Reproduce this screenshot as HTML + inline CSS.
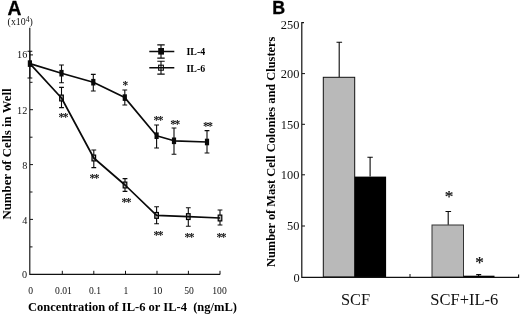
<!DOCTYPE html>
<html><head><meta charset="utf-8">
<style>
html,body{margin:0;padding:0;background:#fff;}
body{width:520px;height:314px;overflow:hidden;}
svg{display:block;will-change:transform;}
text{font-family:"Liberation Serif",serif;fill:#111;}
.sans{font-family:"Liberation Sans",sans-serif;font-weight:bold;fill:#000;}
.b{font-weight:bold;fill:#000;}
.ax{stroke:#111;stroke-width:1.4;fill:none;}
.tk{stroke:#111;stroke-width:1;fill:none;}
.ln{stroke:#0a0a0a;stroke-width:1.7;fill:none;stroke-linejoin:round;}
.eb{stroke:#0a0a0a;stroke-width:1.1;fill:none;}
.st{font-size:11.5px;fill:#444;letter-spacing:-1.5px;font-weight:bold;}
</style></head><body>
<svg width="520" height="314" viewBox="0 0 520 314">
<rect width="520" height="314" fill="#fff"/>

<text class="sans" x="7.5" y="14.5" font-size="20.4" textLength="13.9" stroke="#000" stroke-width="0.3" lengthAdjust="spacingAndGlyphs">A</text>
<text x="7.6" y="25.3" font-size="9.4" textLength="25.2" lengthAdjust="spacingAndGlyphs">(x10<tspan dy="-3.0" font-size="7.2">4</tspan><tspan dy="3.0">)</tspan></text>
<path class="ax" style="stroke-width:1.15" d="M29.8 27.8V274.3H220.3"/>
<path class="tk" d="M30 54.9h3M30 82.3h2.5M30 109.7h3M30 137.2h2.5M30 164.6h3M30 192h2.5M30 219.4h3M30 246.9h2.5"/>
<path class="tk" d="M62.3 274v-3.2M93.8 274v-3.2M125.5 274v-3.2M157 274v-3.2M188.4 274v-3.2M220 274v-3.2"/>
<g font-size="10.2" text-anchor="end">
<text x="27.3" y="58.3">16</text>
<text x="27.3" y="114.1">12</text>
<text x="27.3" y="169">8</text>
<text x="27.3" y="224.3">4</text>
<text x="27" y="277.6">0</text>
</g>
<g font-size="9.6" text-anchor="middle">
<text x="30.6" y="293.8">0</text>
<text x="63.5" y="293.8">0.01</text>
<text x="95" y="293.8">0.1</text>
<text x="126" y="293.8">1</text>
<text x="157.5" y="293.8">10</text>
<text x="189" y="293.8">50</text>
<text x="219.5" y="293.8">100</text>
</g>
<text class="b" x="28.1" y="310.7" font-size="12.5" xml:space="preserve">Concentration of IL-6 or IL-4  (ng/mL)</text>
<text class="b" transform="translate(10.7,219.5) rotate(-90)" font-size="12.8">Number of Cells in Well</text>

<path class="eb" d="M29.9 51.3V78M27.5 51.3h4.8M27.5 78h4.8M61.5 65V82.7M59.1 65h4.8M59.1 82.7h4.8M93.3 74.4V91M90.89999999999999 74.4h4.8M90.89999999999999 91h4.8M124.8 90V105M122.39999999999999 90h4.8M122.39999999999999 105h4.8M156.6 125V148M154.2 125h4.8M154.2 148h4.8M174 128V154.3M171.6 128h4.8M171.6 154.3h4.8M207 130.6V153M204.6 130.6h4.8M204.6 153h4.8M61.5 87.4V107.6M59.1 87.4h4.8M59.1 107.6h4.8M93.8 150V167.6M91.39999999999999 150h4.8M91.39999999999999 167.6h4.8M125 178.6V191.4M122.6 178.6h4.8M122.6 191.4h4.8M156.6 206.7V223.8M154.2 206.7h4.8M154.2 223.8h4.8M188.3 207.7V226.3M185.9 207.7h4.8M185.9 226.3h4.8M220 210V225M217.6 210h4.8M217.6 225h4.8"/>
<g fill="#0a0a0a">
<rect x="27.8" y="60.3" width="4.2" height="6.6"/>
<rect x="59.4" y="69.9" width="4.2" height="6.6"/>
<rect x="91.2" y="78.9" width="4.2" height="6.6"/>
<rect x="122.7" y="94.3" width="4.2" height="6.6"/>
<rect x="154.5" y="132.4" width="4.2" height="6.6"/>
<rect x="171.9" y="137.5" width="4.2" height="6.6"/>
<rect x="204.9" y="138.7" width="4.2" height="6.6"/>
</g><g fill="#b4b4b4" stroke="#000" stroke-width="1.2">
<rect x="59.7" y="95.1" width="3.6" height="5.8"/>
<rect x="92.0" y="155.1" width="3.6" height="5.8"/>
<rect x="123.2" y="182.1" width="3.6" height="5.8"/>
<rect x="154.8" y="212.5" width="3.6" height="5.8"/>
<rect x="186.5" y="213.7" width="3.6" height="5.8"/>
<rect x="218.2" y="215.1" width="3.6" height="5.8"/>
</g>
<path class="ln" d="M29.9 63.6L61.5 73.2L93.3 82.2L124.8 97.6L156.6 135.7L174 140.8L207 142"/>
<path class="ln" d="M29.9 63.6L61.5 98L93.8 158L125 185L156.6 215.4L188.3 216.6L220 218"/>
<g>
</g><g class="st" text-anchor="middle">
<text x="124.7" y="88.8">*</text>
<text x="157.7" y="123.8">**</text>
<text x="174.4" y="127.8">**</text>
<text x="207.3" y="129.8">**</text>
<text x="62.7" y="121.3">**</text>
<text x="93.7" y="181.9">**</text>
<text x="125.7" y="206.1">**</text>
<text x="157.7" y="239.3">**</text>
<text x="188.7" y="241.3">**</text>
<text x="220.7" y="240.8">**</text>
</g>
<rect x="158.2" y="48.0" width="5.8" height="6.6" fill="#0a0a0a"/>
<rect x="158.6" y="65.2" width="4.8" height="5.0" fill="#fff" stroke="#111" stroke-width="1.1"/>
<path class="ln" d="M149.3 51.4H174.3M149.3 67.8H174.3" style="stroke-width:1.5"/>
<path class="eb" d="M161.0 44.9V58.1M157.3 44.9h7.4M157.3 58.1h7.4M161.0 61.3V74.1M157.3 61.3h7.4M157.3 74.1h7.4"/>
<text class="b" x="186.5" y="55.4" font-size="9.9">IL-4</text>
<text class="b" x="186.5" y="71.9" font-size="9.9">IL-6</text>

<text class="sans" x="272.3" y="14.4" font-size="17.8" textLength="12.9" stroke="#000" stroke-width="0.3" lengthAdjust="spacingAndGlyphs">B</text>
<rect x="323.3" y="77.3" width="31.4" height="199.7" fill="#b9b9b9" stroke="#111" stroke-width="1"/>
<rect x="354.6" y="176.6" width="31.5" height="100.7" fill="#000"/>
<rect x="432" y="225" width="31.5" height="52.2" fill="#b9b9b9" stroke="#333" stroke-width="1"/>
<rect x="463.5" y="275.7" width="31" height="1.8" fill="#000"/>
<path class="eb" d="M339.2 77V42.2M336.5 42.2h5.6
M370.1 176.6V157.2M367.4 157.2h5.4
M448.2 224.8V211.5M445.5 211.5h5.6
M478.6 276V274.6M476.2 274.6h5"/>
<path class="ax" style="stroke-width:1.2" d="M304 22.6H301.8V277.4H518.6V274.5"/>
<path class="tk" d="M302 73.6h3M302 124.3h3M302 174.8h3M302 226h3M410 277v-3"/>
<g font-size="12.4" text-anchor="end">
<text x="299.4" y="28.7">250</text>
<text x="299.4" y="78.0">200</text>
<text x="299.4" y="128.6">150</text>
<text x="299.4" y="179.4">100</text>
<text x="299.4" y="230.0">50</text>
<text x="299.6" y="281.5">0</text>
</g>
<text class="b" transform="translate(274.6,267) rotate(-90)" font-size="12.4">Number of Mast Cell Colonies and Clusters</text>
<text x="341" y="305" font-size="16.4">SCF</text>
<text x="430.3" y="305" font-size="16.5">SCF+IL-6</text>
<text x="449.0" y="202.0" font-size="17.2" text-anchor="middle" fill="#111" stroke="#111" stroke-width="0.25">*</text>
<text x="479.6" y="267.5" font-size="17.2" text-anchor="middle" fill="#111" stroke="#111" stroke-width="0.25">*</text>
</svg>
</body></html>
